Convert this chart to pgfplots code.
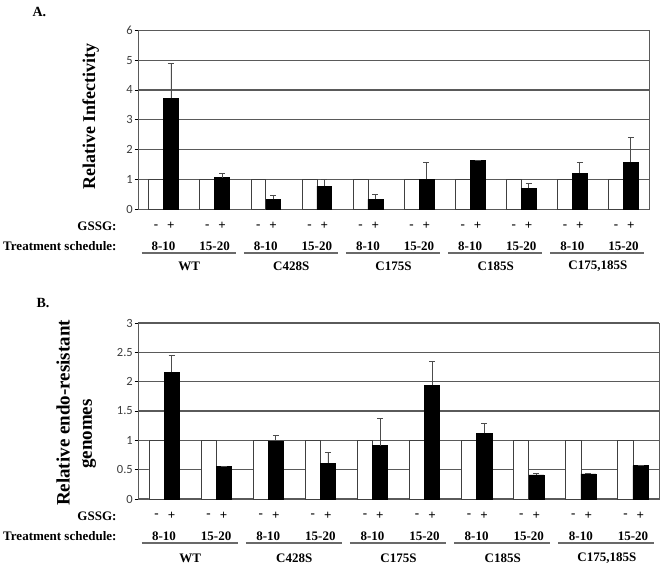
\documentclass[border=0pt]{standalone}
\usepackage{fontspec}
\setmainfont{Liberation Serif}
\newfontfamily\tickfont{Carlito}
\usepackage{pgfplots}
\usepackage{pgfplotstable}
\pgfplotsset{compat=1.18}
\definecolor{gridc}{RGB}{90,90,90}
\definecolor{tickc}{RGB}{60,60,60}
\definecolor{ulc}{RGB}{105,105,105}

% x: category index; xw/xb: positions of the white (-) and black (+) bars
\pgfplotstableread{
x xw xb w b e
0 -0.145 0.145 1 3.72 1.18
1 0.855 1.145 1 1.06 0.15
2 1.855 2.145 1 0.33 0.13
3 2.855 3.145 1 0.78 0.21
4 3.855 4.145 1 0.33 0.18
5 4.855 5.145 1 1.00 0.58
6 5.855 6.145 1 1.64 0
7 6.855 7.145 1 0.70 0.17
8 7.855 8.145 1 1.21 0.37
9 8.855 9.145 1 1.58 0.83
}\dataA

\pgfplotstableread{
x xw xb w b e
0 -0.145 0.145 1 2.16 0.28
1 0.855 1.145 1 0.56 0
2 1.855 2.145 1 0.99 0.09
3 2.855 3.145 1 0.61 0.18
4 3.855 4.145 1 0.91 0.46
5 4.855 5.145 1 1.94 0.41
6 5.855 6.145 1 1.12 0.17
7 6.855 7.145 1 0.41 0.03
8 7.855 8.145 1 0.43 0.01
9 8.855 9.145 1 0.57 0.01
}\dataB

\newcommand{\lbl}{\bfseries\fontsize{13bp}{15bp}\selectfont}

\pgfplotsset{
  mystyle/.style={
    scale only axis,
    xmin=-0.5, xmax=9.5,
    xtick=\empty,
    ytick pos=left,
    axis line style={gridc, line width=0.9bp},
    ymajorgrids,
    grid style={gridc, line width=1.1bp},
    ytick style={black, line width=0.7bp},
    tick align=outside,
    major tick length=3.5bp,
    /pgf/number format/assume math mode=true,
    yticklabel style={font=\tickfont\fontsize{12.5bp}{13bp}\selectfont, text=tickc, inner xsep=1.5bp},
    clip=false,
  },
  whitebar/.style={ybar, bar width=0.29, bar shift=0, fill=white, draw=black!75, line width=0.7bp},
  blackbar/.style={ybar, bar width=0.29, bar shift=0, fill=black, draw=black,
    error bars/.cd, y dir=plus, y explicit,
    error bar style={black!70, line width=0.8bp},
    error mark=-,
    error mark options={rotate=90, black!70, line width=0.9bp, mark size=3bp}},
}

\begin{document}
\begin{tikzpicture}
\path[use as bounding box] (0,0) rectangle (662bp,-568bp);

% ---------------- Panel A ----------------
\begin{axis}[mystyle,
  at={(138bp,-209.3bp)}, anchor=south west,
  width=511bp, height=179bp,
  ymin=0, ymax=6, ytick={0,1,...,6}]
\addplot[whitebar] table[x=xw,y=w]{\dataA};
\addplot[blackbar] table[x=xb,y=b,y error=e]{\dataA};
\pgfplotsinvokeforeach{0,...,9}{
  \node[font=\lbl, xshift=-7.4bp, yshift=-17bp] at (axis cs:#1,0) {-};
  \node[font=\lbl, xshift=7.4bp, yshift=-17bp] at (axis cs:#1,0) {+};
}
\pgfplotsinvokeforeach{0,2,4,6,8}{
  \node[font=\lbl, yshift=-37bp] at (axis cs:#1,0) {8-10};
}
\pgfplotsinvokeforeach{1,3,5,7,9}{
  \node[font=\lbl, yshift=-37bp] at (axis cs:#1,0) {15-20};
}
\pgfplotsinvokeforeach{0,2,4,6,8}{
  \draw[ulc, line width=1.6bp] ([xshift=-22bp,yshift=-43.4bp]axis cs:#1,0) -- ([xshift=72bp,yshift=-43.4bp]axis cs:#1,0);
}
\node[font=\lbl, yshift=-57bp] at (axis cs:0.5,0) {WT};
\node[font=\lbl, yshift=-57bp] at (axis cs:2.5,0) {C428S};
\node[font=\lbl, yshift=-57bp] at (axis cs:4.5,0) {C175S};
\node[font=\lbl, yshift=-57bp] at (axis cs:6.5,0) {C185S};
\node[font=\lbl, yshift=-57bp] at (axis cs:8.5,0) {C175,185S};
\end{axis}

% ---------------- Panel B ----------------
\begin{axis}[mystyle,
  at={(138bp,-499bp)}, anchor=south west,
  width=521bp, height=176bp,
  ymin=0, ymax=3, ytick={0,0.5,...,3}]
\addplot[whitebar] table[x=xw,y=w]{\dataB};
\addplot[blackbar] table[x=xb,y=b,y error=e]{\dataB};
\pgfplotsinvokeforeach{0,...,9}{
  \node[font=\lbl, xshift=-7.5bp, yshift=-17bp] at (axis cs:#1,0) {-};
  \node[font=\lbl, xshift=7.5bp, yshift=-17bp] at (axis cs:#1,0) {+};
}
\pgfplotsinvokeforeach{0,2,4,6,8}{
  \node[font=\lbl, yshift=-37bp] at (axis cs:#1,0) {8-10};
}
\pgfplotsinvokeforeach{1,3,5,7,9}{
  \node[font=\lbl, yshift=-37bp] at (axis cs:#1,0) {15-20};
}
\pgfplotsinvokeforeach{0,2,4,6,8}{
  \draw[ulc, line width=1.6bp] ([xshift=-22.5bp,yshift=-44bp]axis cs:#1,0) -- ([xshift=73.5bp,yshift=-44bp]axis cs:#1,0);
}
\node[font=\lbl, yshift=-59.5bp] at (axis cs:0.5,0) {WT};
\node[font=\lbl, yshift=-59.5bp] at (axis cs:2.5,0) {C428S};
\node[font=\lbl, yshift=-59.5bp] at (axis cs:4.5,0) {C175S};
\node[font=\lbl, yshift=-59.5bp] at (axis cs:6.5,0) {C185S};
\node[font=\lbl, yshift=-59.5bp] at (axis cs:8.5,0) {C175,185S};
\end{axis}

% ---------------- Outside labels ----------------
\node[anchor=west, font=\bfseries\fontsize{14bp}{16bp}\selectfont] at (29bp,-12bp) {A.};
\node[anchor=west, font=\bfseries\fontsize{14bp}{16bp}\selectfont] at (33bp,-303bp) {B.};

\node[rotate=90, font=\bfseries\fontsize{18bp}{20bp}\selectfont] at (90.7bp,-116.5bp) {Relative Infectivity};
\node[rotate=90, font=\bfseries\fontsize{19bp}{21bp}\selectfont] at (63bp,-413bp) {Relative endo-resistant};
\node[rotate=90, font=\bfseries\fontsize{19bp}{21bp}\selectfont] at (89bp,-434bp) {genomes};

\node[anchor=east, font=\lbl] at (120bp,-226bp) {GSSG:};
\node[anchor=east, font=\lbl] at (120bp,-246bp) {Treatment schedule:};
\node[anchor=east, font=\lbl] at (120bp,-516bp) {GSSG:};
\node[anchor=east, font=\lbl] at (120bp,-536bp) {Treatment schedule:};
\end{tikzpicture}
\end{document}
